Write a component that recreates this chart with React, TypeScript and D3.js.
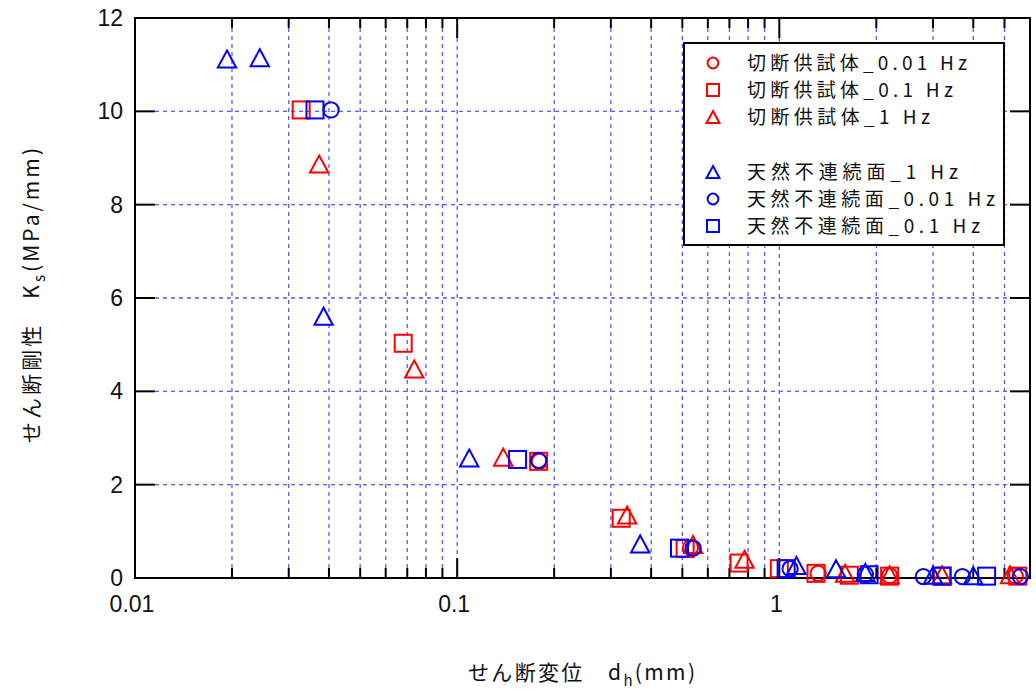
import React from "react";
import * as d3 from "d3";

type Pt = [number, number];

const redCircle: Pt[] = [[0.18, 2.5], [0.53, 0.65], [1.32, 0.1], [2.2, 0.05], [5.4, 0.04]];
const redSquare: Pt[] = [[0.0328, 10.03], [0.068, 5.03], [0.179, 2.5], [0.323, 1.28], [0.51, 0.63], [0.75, 0.32], [1.0, 0.2], [1.3, 0.1], [1.65, 0.06], [2.2, 0.04], [3.2, 0.04], [5.5, 0.04]];
const redTriangle: Pt[] = [[0.0373, 8.87], [0.0736, 4.48], [0.139, 2.59], [0.337, 1.35], [0.54, 0.72], [0.78, 0.4], [1.6, 0.1], [2.2, 0.07], [3.2, 0.07], [5.2, 0.07]];
const blueTriangle: Pt[] = [[0.0193, 11.12], [0.0244, 11.15], [0.0385, 5.61], [0.109, 2.57], [0.37, 0.73], [1.13, 0.27], [1.5, 0.2], [1.85, 0.12], [3.0, 0.06], [4.0, 0.05]];
const blueCircle: Pt[] = [[0.0406, 10.03], [0.179, 2.52], [0.54, 0.64], [1.08, 0.2], [1.85, 0.08], [2.8, 0.03], [3.7, 0.03], [5.6, 0.03]];
const blueSquare: Pt[] = [[0.0362, 10.03], [0.154, 2.54], [0.49, 0.64], [1.05, 0.2], [1.9, 0.07], [3.2, 0.04], [4.4, 0.04]];

const yTicks = [0, 2, 4, 6, 8, 10, 12];
const xMajor = [0.01, 0.1, 1];
const xLabels = ["0.01", "0.1", "1"];
const xMinor = [0.02, 0.03, 0.04, 0.05, 0.06, 0.07, 0.08, 0.09, 0.2, 0.3, 0.4, 0.5, 0.6, 0.7, 0.8, 0.9, 2, 3, 4, 5];

type Shape = "circle" | "square" | "triangle";
const seriesList: { name: string; color: string; shape: Shape; data: Pt[] }[] = [
  { name: "切断供試体_0.01 Hz", color: "#ff0000", shape: "circle", data: redCircle },
  { name: "切断供試体_0.1 Hz", color: "#ff0000", shape: "square", data: redSquare },
  { name: "切断供試体_1 Hz", color: "#ff0000", shape: "triangle", data: redTriangle },
  { name: "天然不連続面_1 Hz", color: "#0000ff", shape: "triangle", data: blueTriangle },
  { name: "天然不連続面_0.01 Hz", color: "#0000ff", shape: "circle", data: blueCircle },
  { name: "天然不連続面_0.1 Hz", color: "#0000ff", shape: "square", data: blueSquare },
];
const legendGap = [0, 0, 0, 1, 1, 1];
const legendTextLen = [220, 206, 183, 211, 248, 233];

function Marker({ shape, x, y, color, s }: { shape: Shape; x: number; y: number; color: string; s: number }) {
  const sw = 2;
  if (shape === "circle") return <circle cx={x} cy={y} r={s * 0.45} fill="none" stroke={color} strokeWidth={sw} />;
  if (shape === "square") return <rect x={x - s / 2} y={y - s / 2} width={s} height={s} fill="none" stroke={color} strokeWidth={sw} />;
  const w = s * 1.08, h = s;
  return <path d={`M${x},${y - h / 2}L${x + w / 2},${y + h / 2}L${x - w / 2},${y + h / 2}Z`} fill="none" stroke={color} strokeWidth={sw} />;
}

export default function App() {
  const L = 135, R = 1030, T = 18, B = 578;
  const x = d3.scaleLog().domain([0.01, 6]).range([L, R]);
  const y = d3.scaleLinear().domain([0, 12]).range([B, T]);
  const grid = "#5a5aff";
  const numFont = "'Liberation Sans', Arial, sans-serif";
  const jpFont = "'Noto Sans CJK JP', sans-serif";
  return (
    <svg width={1036} height={695} style={{ position: "absolute", left: 0, top: 0, background: "#fff" }}>
      <rect x={0} y={0} width={1036} height={695} fill="#fff" />
      {/* grid */}
      {yTicks.filter(v => v > 0 && v < 12).map(v => (
        <line key={"gy" + v} x1={L + 20} x2={R - 20} y1={y(v)} y2={y(v)} stroke={grid} strokeWidth={1.3} strokeDasharray="4,4" />
      ))}
      {xMinor.map(v => (
        <line key={"gx" + v} x1={x(v)} x2={x(v)} y1={T + 10} y2={B - 10} stroke={grid} strokeWidth={1.3} strokeDasharray="4,4" />
      ))}
      {xMajor.filter(v => v > 0.01).map(v => (
        <line key={"gX" + v} x1={x(v)} x2={x(v)} y1={T + 20} y2={B - 20} stroke={grid} strokeWidth={1.3} strokeDasharray="4,4" />
      ))}
      {/* frame */}
      <rect x={L} y={T} width={R - L} height={B - T} fill="none" stroke="#000" strokeWidth={2} />
      {yTicks.map(v => (
        <g key={"yt" + v}>
          <line x1={L} x2={L + 20} y1={y(v)} y2={y(v)} stroke="#000" strokeWidth={2} />
          <line x1={R - 20} x2={R} y1={y(v)} y2={y(v)} stroke="#000" strokeWidth={2} />
          <text x={123} y={y(v) + 8} textAnchor="end" fontFamily={numFont} fontSize={23} fill="#111">{v}</text>
        </g>
      ))}
      {xMinor.map(v => (
        <g key={"xm" + v}>
          <line x1={x(v)} x2={x(v)} y1={B} y2={B - 10} stroke="#000" strokeWidth={2} />
          <line x1={x(v)} x2={x(v)} y1={T} y2={T + 10} stroke="#000" strokeWidth={2} />
        </g>
      ))}
      {xMajor.map((v, i) => (
        <g key={"xM" + v}>
          <line x1={x(v)} x2={x(v)} y1={B} y2={B - 20} stroke="#000" strokeWidth={2} />
          <line x1={x(v)} x2={x(v)} y1={T} y2={T + 20} stroke="#000" strokeWidth={2} />
          <text x={x(v) - 3} y={612} textAnchor="middle" fontFamily={numFont} fontSize={23} fill="#111">{xLabels[i]}</text>
        </g>
      ))}
      {/* data */}
      {seriesList.map(s => (
        <g key={s.name}>
          {s.data.map((p, i) => (
            <Marker key={i} shape={s.shape} x={x(p[0])} y={y(p[1])} color={s.color} s={17} />
          ))}
        </g>
      ))}
      {/* legend */}
      <rect x={684} y={43} width={320} height={202} fill="#fff" stroke="#000" strokeWidth={2} />
      {seriesList.map((s, i) => {
        const cy = 63 + i * 27 + legendGap[i] * 28;
        return (
          <g key={"lg" + i}>
            <Marker shape={s.shape} x={713} y={cy} color={s.color} s={12} />
            <text x={747} y={cy + 7} fontFamily={jpFont} fontSize={19} fill="#111"
              textLength={legendTextLen[i]} lengthAdjust="spacing">{s.name}</text>
          </g>
        );
      })}
      {/* axis titles */}
      <text x={468} y={680} fontFamily={jpFont} fontSize={21} fill="#111" textLength={227} lengthAdjust="spacing">
        せん断変位　d<tspan fontSize={15} dy={6}>h</tspan><tspan dy={-6}>(mm)</tspan>
      </text>
      <text transform="translate(39,443) rotate(-90)" x={0} y={0} fontFamily={jpFont} fontSize={21} fill="#111" textLength={295} lengthAdjust="spacing">
        せん断剛性　K<tspan fontSize={15} dy={6}>s</tspan><tspan dy={-6}>(MPa/mm)</tspan>
      </text>
    </svg>
  );
}
